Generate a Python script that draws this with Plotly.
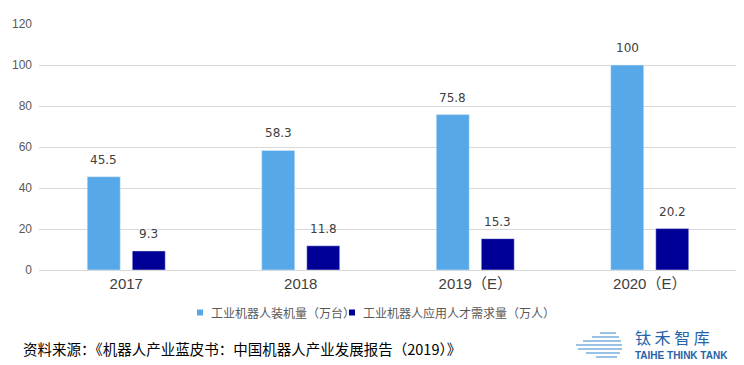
import plotly.graph_objects as go

categories = ["2017", "2018", "2019（E）", "2020（E）"]
installed = [45.5, 58.3, 75.8, 100]
talent = [9.3, 11.8, 15.3, 20.2]
series_names = ["工业机器人装机量（万台）", "工业机器人应用人才需求量（万人）"]
y_ticks = [0, 20, 40, 60, 80, 100, 120]
source_text = "资料来源：《机器人产业蓝皮书：中国机器人产业发展报告（2019）》"

c1 = "#56A8E8"
c2 = "#000096"

# page body has an 8px margin; lay out in window pixels and compensate
OFF = 8
WIN_W, WIN_H = 744, 365
W, H = WIN_W - OFF, WIN_H - OFF
left, right, top, bottom = 39, 737, 24, 270   # plot area in window pixels
ml, mr, mt, mb = left - OFF, WIN_W - right, top - OFF, WIN_H - bottom
pw, ph = right - left, bottom - top


def px(x):
    return (x - left) / pw


def py(y):
    return (bottom - y) / ph


BARGAP = 0.484
BGG = 0.267
slot = (1 - BARGAP) / 2

fig = go.Figure()
fig.add_bar(x=categories, y=installed, name=series_names[0], marker_color=c1,
            offsetgroup="a", showlegend=False)
fig.add_bar(x=categories, y=talent, name=series_names[1], marker_color=c2,
            offsetgroup="b", showlegend=False)

label_font = dict(family="DejaVu Sans, Noto Sans", size=12, color="#404040")
annotations = []
for i, cat in enumerate(categories):
    for vals, off in ((installed, -slot / 2), (talent, slot / 2)):
        v = vals[i]
        annotations.append(dict(x=i + off, y=v, xref="x", yref="y",
                                text=f"{v:g}", showarrow=False, yshift=17,
                                font=label_font))

# legend built as swatches + text
leg_font = dict(family="Noto Sans CJK SC", size=12, color="#595959")
legend_items = [(197, 209, c1, series_names[0]), (349, 361, c2, series_names[1])]
shapes = []
for x0, xt, col, name in legend_items:
    shapes.append(dict(type="rect", xref="paper", yref="paper",
                       x0=px(x0), x1=px(x0 + 6), y0=py(315.5), y1=py(309.5),
                       fillcolor=col, line=dict(width=0)))
    annotations.append(dict(x=px(xt), y=py(312.5), xref="paper", yref="paper",
                            text=name, showarrow=False, xanchor="left", yanchor="middle",
                            font=leg_font))

annotations.append(dict(x=px(21), y=py(348), xref="paper", yref="paper", text=source_text,
                        showarrow=False, xanchor="left", yanchor="middle",
                        font=dict(family="Noto Sans CJK SC", size=14.5, color="#000000")))
annotations.append(dict(x=px(633), y=py(337), xref="paper", yref="paper", text="钛 禾 智 库",
                        showarrow=False, xanchor="left", yanchor="middle",
                        font=dict(family="Noto Sans CJK SC", size=16, color="#2563A8")))
annotations.append(dict(x=px(633), y=py(355), xref="paper", yref="paper", text="<b>TAIHE THINK TANK</b>",
                        showarrow=False, xanchor="left", yanchor="middle",
                        font=dict(family="Liberation Sans Narrow, Liberation Sans", size=10,
                                  color="#2563A8")))

line_specs = [(600, 616, 333), (592, 619, 337), (583, 621, 341), (576, 622, 345),
              (578, 622, 349), (586, 620, 353), (596, 617, 357)]
for x0, x1, y in line_specs:
    shapes.append(dict(type="line", xref="paper", yref="paper", x0=px(x0), x1=px(x1),
                       y0=py(y), y1=py(y), line=dict(color="#7AAEDC", width=1.5)))

fig.update_layout(
    annotations=annotations, shapes=shapes,
    width=W, height=H,
    margin=dict(l=ml, r=mr, t=mt, b=mb, autoexpand=False),
    paper_bgcolor="white", plot_bgcolor="white",
    barmode="group", bargap=BARGAP, bargroupgap=BGG,
    showlegend=False,
    xaxis=dict(tickfont=dict(family="Liberation Sans, Noto Sans CJK SC", size=15, color="#404040"),
               showline=True, linecolor="#d9d9d9", linewidth=1, ticks="", automargin=False),
    yaxis=dict(range=[0, 120], tickvals=y_ticks, showgrid=True, gridcolor="#d9d9d9",
               tickfont=dict(family="Liberation Sans", size=12, color="#595959"),
               zeroline=False, ticklabelstandoff=6, automargin=False),
)

fig.write_html("out.html")
